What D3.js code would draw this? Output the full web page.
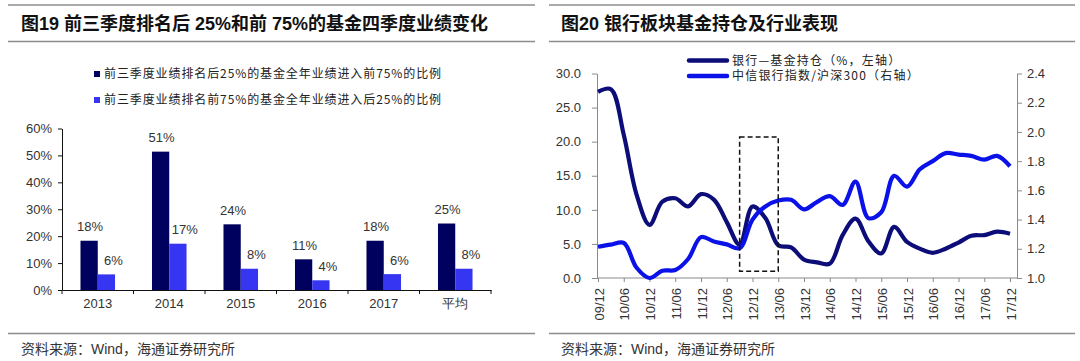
<!DOCTYPE html>
<html>
<head>
<meta charset="utf-8">
<script src="https://cdn.jsdelivr.net/npm/d3@7"></script>
<style>
  body { margin: 0; background: #fff; }
  svg { display: block; font-family: "Liberation Sans", Arial, "Noto Sans CJK SC", sans-serif; }
  .title { font-family: "Liberation Sans", "Noto Sans CJK SC", sans-serif; font-weight: bold; font-size: 18px; fill: #111; }
  .source { font-size: 14px; fill: #333; }
  .rule { stroke: #8c8c8c; stroke-width: 1.5; }
  .legend text { font-size: 12px; fill: #222; font-family: "Noto Sans CJK SC", sans-serif; }
  .tickText { font-size: 13px; fill: #333; }
</style>
</head>
<body>
<div id="chart"></div>
<script>
/* global d3 */

// ---- left chart data (percent) ----
let barYears = ["2013", "2014", "2015", "2016", "2017", "平均"];
let barSeriesNames = [
    "前三季度业绩排名后25%的基金全年业绩进入前75%的比例",
    "前三季度业绩排名前75%的基金全年业绩进入后25%的比例"
];
let barBackIn = [18.3, 51.4, 24.4, 11.4, 18.3, 24.7];
let barFrontOut = [5.8, 17.2, 7.9, 3.6, 5.9, 7.9];
let barTicks = [0, 10, 20, 30, 40, 50, 60];

// ---- right chart data (quarterly) ----
let quarters = ["09/12", "10/03", "10/06", "10/09", "10/12", "11/03", "11/06", "11/09", "11/12",
    "12/03", "12/06", "12/09", "12/12", "13/03", "13/06", "13/09", "13/12", "14/03", "14/06",
    "14/09", "14/12", "15/03", "15/06", "15/09", "15/12", "16/03", "16/06", "16/09", "16/12",
    "17/03", "17/06", "17/09", "17/12"];
let fundHolding = [27.3, 27.7, 21.0, 12.2, 7.8, 11.2, 11.7, 10.5, 12.3, 11.5, 8.2, 4.9, 10.5, 8.8,
    4.8, 4.5, 2.7, 2.3, 2.1, 6.3, 8.7, 5.4, 3.6, 7.5, 5.3, 4.3, 3.7, 4.3, 5.2, 6.2, 6.3, 6.8, 6.5];
let bankRelative = [1.214, 1.228, 1.24, 1.07, 1.0, 1.05, 1.055, 1.13, 1.28, 1.25, 1.23, 1.205, 1.40,
    1.49, 1.53, 1.535, 1.47, 1.52, 1.56, 1.50, 1.66, 1.41, 1.45, 1.70, 1.625, 1.745, 1.80, 1.855,
    1.845, 1.836, 1.81, 1.836, 1.765];
let lineTickLabels = ["09/12", "10/06", "10/12", "11/06", "11/12", "12/06", "12/12", "13/06",
    "13/12", "14/06", "14/12", "15/06", "15/12", "16/06", "16/12", "17/06", "17/12"];
let leftTicks = [0, 5, 10, 15, 20, 25, 30];
let rightTicks = [1.0, 1.2, 1.4, 1.6, 1.8, 2.0, 2.2, 2.4];
let lineNames = ["银行—基金持仓（%，左轴）", "中信银行指数/沪深300（右轴）"];
let boxFrom = "12/09", boxTo = "13/06", boxLow = 1.0, boxHigh = 20.7;

let darkNavy = "#00005e", brightBlue = "#3535f2";
let lineNavy = "#0d0d7a", lineBlue = "#0a12e8";

let svg = d3.select("#chart").append("svg")
    .attr("width", 1080)
    .attr("height", 361);

// ---- frames: titles, rules, sources ----
let panels = [
    {x0: 8, x1: 535, tx: 21, title: "图19 前三季度排名后 25%和前 75%的基金四季度业绩变化"},
    {x0: 549, x1: 1075, tx: 561, title: "图20 银行板块基金持仓及行业表现"}
];
panels.forEach(function(p) {
    svg.append("line").attr("class", "rule").attr("x1", p.x0).attr("x2", p.x1).attr("y1", 5).attr("y2", 5);
    svg.append("line").attr("class", "rule").attr("x1", p.x0).attr("x2", p.x1).attr("y1", 41.5).attr("y2", 41.5);
    svg.append("line").attr("class", "rule").attr("x1", p.x0).attr("x2", p.x1).attr("y1", 333.5).attr("y2", 333.5);
    svg.append("text").attr("class", "title")
        .attr("x", p.tx).attr("y", 24).attr("dy", "0.36em")
        .text(p.title);
    svg.append("text").attr("class", "source")
        .attr("x", p.tx).attr("y", 349).attr("dy", "0.36em")
        .text("资料来源：Wind，海通证券研究所");
});

// ================= left: grouped bars =================
let x0 = d3.scaleBand().domain(barYears).range([62, 491]);
let x1 = d3.scaleBand().domain([0, 1]).range([0, x0.bandwidth()]).paddingOuter(1.07);
let yBar = d3.scaleLinear().domain([0, 60]).range([290, 128.5]);

let barGroups = svg.selectAll(".barGroup")
    .data(barYears)
    .enter().append("g")
    .attr("class", "barGroup")
    .attr("transform", function(d) { return "translate(" + x0(d) + ",0)"; });

[barBackIn, barFrontOut].forEach(function(vals, s) {
    barGroups.append("rect")
        .attr("x", x1(s))
        .attr("width", x1.bandwidth())
        .attr("y", function(d, i) { return yBar(vals[i]); })
        .attr("height", function(d, i) { return yBar(0) - yBar(vals[i]); })
        .style("fill", s == 0 ? darkNavy : brightBlue);
    barGroups.append("text")
        .attr("class", "tickText")
        .attr("x", x1(s) + x1.bandwidth() / 2 + (s == 0 ? 1 : 7))
        .attr("y", function(d, i) { return yBar(vals[i]) - 14; })
        .attr("dy", "0.36em")
        .style("text-anchor", "middle")
        .text(function(d, i) { return Math.round(vals[i]) + "%"; });
});

let yBarAxis = svg.append("g")
    .attr("transform", "translate(62,0)")
    .call(d3.axisLeft(yBar).tickValues(barTicks).tickSize(4).tickSizeOuter(0)
        .tickFormat(function(d) { return d + "%"; }));
yBarAxis.selectAll("text").attr("class", "tickText").attr("x", -10);
yBarAxis.selectAll("line, path").attr("stroke", "#111");

let xBarAxis = svg.append("g")
    .attr("transform", "translate(0," + yBar(0) + ")")
    .call(d3.axisBottom(x0).tickSize(0).tickPadding(8).tickSizeOuter(0));
xBarAxis.selectAll("text").attr("class", "tickText").attr("dy", "0.75em");
xBarAxis.select(".domain").attr("stroke", "#111");
xBarAxis.selectAll(".sep")
    .data(barYears.map(function(d) { return x0(d); }).concat([x0.range()[1]]))
    .enter().append("line")
    .attr("class", "sep")
    .attr("x1", function(d) { return d; })
    .attr("x2", function(d) { return d; })
    .attr("y1", 0).attr("y2", 4)
    .attr("stroke", "#111");

let barLegend = svg.selectAll(".barLegend")
    .data(barSeriesNames)
    .enter().append("g")
    .attr("class", "legend barLegend")
    .attr("transform", function(d, i) { return "translate(94," + (74 + i * 26) + ")"; });
barLegend.append("rect")
    .attr("x", 0).attr("y", -3)
    .attr("width", 6).attr("height", 6)
    .style("fill", function(d, i) { return i == 0 ? darkNavy : brightBlue; });
barLegend.append("text")
    .attr("x", 10).attr("dy", "0.36em")
    .style("letter-spacing", "0.9px")
    .text(function(d) { return d; });

// ================= right: dual axis lines =================
let xLine = d3.scalePoint().domain(quarters).range([598, 1010]);
let yLeft = d3.scaleLinear().domain([0, 30]).range([278, 73.5]);
let yRight = d3.scaleLinear().domain([1.0, 2.4]).range([278, 73.5]);
let axisGray = "#8a8a8a";

let xLineAxis = svg.append("g")
    .attr("transform", "translate(0," + yLeft(0) + ")")
    .call(d3.axisBottom(xLine).tickValues(lineTickLabels).tickSize(4).tickSizeOuter(0));
xLineAxis.select(".domain")
    .attr("d", "M" + (xLine(quarters[0]) - 1) + ",0H" + (xLine(quarters[quarters.length - 1]) + 7));
xLineAxis.selectAll("line, path").attr("stroke", axisGray);
xLineAxis.selectAll("text")
    .attr("class", "tickText")
    .attr("transform", "rotate(-90)")
    .attr("x", -10).attr("y", 0).attr("dy", "0.4em")
    .style("text-anchor", "end");

let yLeftAxis = svg.append("g")
    .attr("transform", "translate(597,0)")
    .call(d3.axisLeft(yLeft).tickValues(leftTicks).tickSize(5).tickSizeOuter(0).tickFormat(d3.format(".1f")));
yLeftAxis.selectAll("line, path").attr("stroke", axisGray);
yLeftAxis.selectAll("text").attr("class", "tickText").attr("x", -16);

let yRightAxis = svg.append("g")
    .attr("transform", "translate(1017,0)")
    .call(d3.axisRight(yRight).tickValues(rightTicks).tickSize(5).tickSizeOuter(0).tickFormat(d3.format(".1f")));
yRightAxis.selectAll("line, path").attr("stroke", axisGray);
yRightAxis.selectAll("text").attr("class", "tickText").attr("x", 10);

let holdLine = d3.line()
    .x(function(d, i) { return xLine(quarters[i]); })
    .y(function(d) { return yLeft(d); })
    .curve(d3.curveCatmullRom.alpha(0.5));
let relLine = d3.line()
    .x(function(d, i) { return xLine(quarters[i]); })
    .y(function(d) { return yRight(d); })
    .curve(d3.curveCatmullRom.alpha(0.5));

svg.append("path")
    .datum(fundHolding)
    .attr("d", holdLine)
    .attr("fill", "none")
    .attr("stroke", lineNavy)
    .attr("stroke-width", 4.2)
    .attr("stroke-linejoin", "round");

svg.append("path")
    .datum(bankRelative)
    .attr("d", relLine)
    .attr("fill", "none")
    .attr("stroke", lineBlue)
    .attr("stroke-width", 4.2)
    .attr("stroke-linejoin", "round");

svg.append("rect")
    .attr("x", xLine(boxFrom))
    .attr("y", yLeft(boxHigh))
    .attr("width", xLine(boxTo) - xLine(boxFrom))
    .attr("height", yLeft(boxLow) - yLeft(boxHigh))
    .attr("fill", "none")
    .attr("stroke", "#111")
    .attr("stroke-width", 1.5)
    .attr("stroke-dasharray", "5,3");

let lineLegend = svg.selectAll(".lineLegend")
    .data(lineNames)
    .enter().append("g")
    .attr("class", "legend lineLegend")
    .attr("transform", function(d, i) { return "translate(689," + (60.5 + i * 15.5) + ")"; });
lineLegend.append("line")
    .attr("x1", 0).attr("x2", 38)
    .attr("stroke", function(d, i) { return i == 0 ? lineNavy : lineBlue; })
    .attr("stroke-width", 4.5)
    .attr("stroke-linecap", "round");
lineLegend.append("text")
    .attr("x", 43).attr("dy", "0.36em")
    .style("letter-spacing", "1.2px")
    .text(function(d) { return d; });
</script>
</body>
</html>
